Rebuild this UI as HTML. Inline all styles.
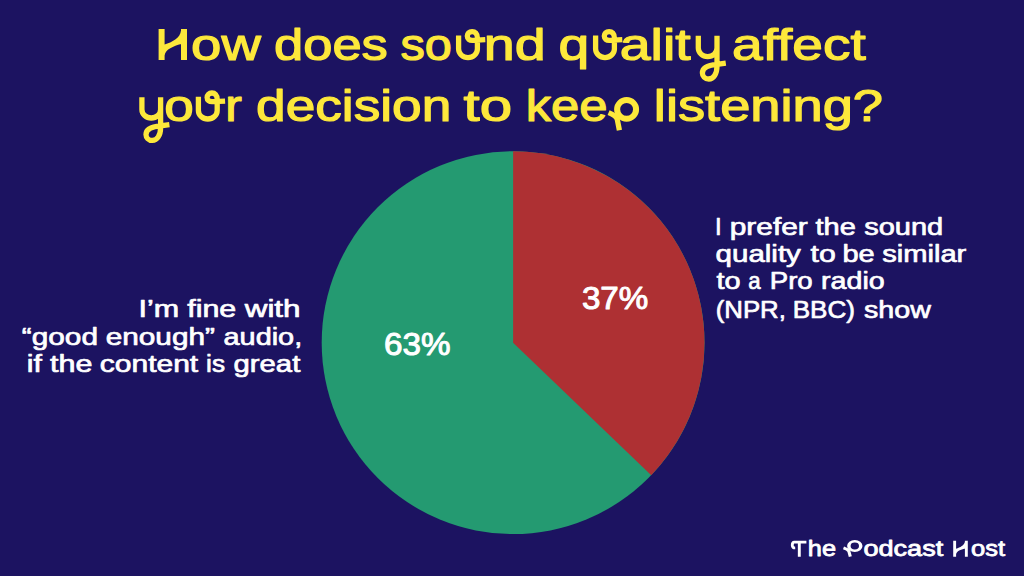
<!DOCTYPE html>
<html><head><meta charset="utf-8"><style>
html,body{margin:0;padding:0;background:#1c1361;}
body{width:1024px;height:576px;overflow:hidden;}
svg{display:block;}
text{font-family:"Liberation Sans",sans-serif;}
</style></head><body>
<svg width="1024" height="576" viewBox="0 0 1024 576">
<rect width="1024" height="576" fill="#1c1361"/>
<circle cx="513.1" cy="342.7" r="191.4" fill="#249a71"/>
<path d="M513.1,342.7 L513.1,151.3 A191.4,191.4 0 0 1 651.25,475.17 Z" fill="#ae3033"/>
<text x="191.02" y="60.00" font-size="45" font-weight="400" fill="#fde83b" stroke="#fde83b" stroke-width="1.2" stroke-linejoin="round" textLength="69.80" lengthAdjust="spacingAndGlyphs">ow</text>
<text x="273.98" y="60.00" font-size="45" font-weight="400" fill="#fde83b" stroke="#fde83b" stroke-width="1.2" stroke-linejoin="round" textLength="113.89" lengthAdjust="spacingAndGlyphs">does</text>
<text x="400.50" y="60.00" font-size="45" font-weight="400" fill="#fde83b" stroke="#fde83b" stroke-width="1.2" stroke-linejoin="round" textLength="51.48" lengthAdjust="spacingAndGlyphs">so</text>
<text x="483.79" y="60.00" font-size="45" font-weight="400" fill="#fde83b" stroke="#fde83b" stroke-width="1.2" stroke-linejoin="round" textLength="61.83" lengthAdjust="spacingAndGlyphs">nd</text>
<text x="558.62" y="60.00" font-size="45" font-weight="400" fill="#fde83b" stroke="#fde83b" stroke-width="1.2" stroke-linejoin="round" textLength="30.70" lengthAdjust="spacingAndGlyphs">q</text>
<text x="619.69" y="60.00" font-size="45" font-weight="400" fill="#fde83b" stroke="#fde83b" stroke-width="1.2" stroke-linejoin="round" textLength="71.02" lengthAdjust="spacingAndGlyphs">alit</text>
<text x="732.05" y="60.00" font-size="45" font-weight="400" fill="#fde83b" stroke="#fde83b" stroke-width="1.2" stroke-linejoin="round" textLength="133.76" lengthAdjust="spacingAndGlyphs">affect</text>
<text x="164.30" y="121.40" font-size="45" font-weight="400" fill="#fde83b" stroke="#fde83b" stroke-width="1.2" stroke-linejoin="round" textLength="29.55" lengthAdjust="spacingAndGlyphs">o</text>
<text x="225.25" y="121.40" font-size="45" font-weight="400" fill="#fde83b" stroke="#fde83b" stroke-width="1.2" stroke-linejoin="round" textLength="16.61" lengthAdjust="spacingAndGlyphs">r</text>
<text x="256.04" y="121.40" font-size="45" font-weight="400" fill="#fde83b" stroke="#fde83b" stroke-width="1.2" stroke-linejoin="round" textLength="195.25" lengthAdjust="spacingAndGlyphs">decision</text>
<text x="463.52" y="121.40" font-size="45" font-weight="400" fill="#fde83b" stroke="#fde83b" stroke-width="1.2" stroke-linejoin="round" textLength="48.53" lengthAdjust="spacingAndGlyphs">to</text>
<text x="525.73" y="121.40" font-size="45" font-weight="400" fill="#fde83b" stroke="#fde83b" stroke-width="1.2" stroke-linejoin="round" textLength="81.81" lengthAdjust="spacingAndGlyphs">kee</text>
<text x="653.84" y="121.40" font-size="45" font-weight="400" fill="#fde83b" stroke="#fde83b" stroke-width="1.2" stroke-linejoin="round" textLength="229.23" lengthAdjust="spacingAndGlyphs">listening?</text>
<text x="138.55" y="317.00" font-size="24.4" font-weight="400" fill="#ffffff" stroke="#ffffff" stroke-width="0.7" stroke-linejoin="round" textLength="40.60" lengthAdjust="spacingAndGlyphs">I’m</text>
<text x="187.24" y="317.00" font-size="24.4" font-weight="400" fill="#ffffff" stroke="#ffffff" stroke-width="0.7" stroke-linejoin="round" textLength="49.04" lengthAdjust="spacingAndGlyphs">fine</text>
<text x="244.73" y="317.00" font-size="24.4" font-weight="400" fill="#ffffff" stroke="#ffffff" stroke-width="0.7" stroke-linejoin="round" textLength="55.84" lengthAdjust="spacingAndGlyphs">with</text>
<text x="21.89" y="344.50" font-size="24.4" font-weight="400" fill="#ffffff" stroke="#ffffff" stroke-width="0.7" stroke-linejoin="round" textLength="76.10" lengthAdjust="spacingAndGlyphs">“good</text>
<text x="105.72" y="344.50" font-size="24.4" font-weight="400" fill="#ffffff" stroke="#ffffff" stroke-width="0.7" stroke-linejoin="round" textLength="109.15" lengthAdjust="spacingAndGlyphs">enough”</text>
<text x="223.57" y="344.50" font-size="24.4" font-weight="400" fill="#ffffff" stroke="#ffffff" stroke-width="0.7" stroke-linejoin="round" textLength="78.61" lengthAdjust="spacingAndGlyphs">audio,</text>
<text x="26.73" y="372.10" font-size="24.4" font-weight="400" fill="#ffffff" stroke="#ffffff" stroke-width="0.7" stroke-linejoin="round" textLength="15.11" lengthAdjust="spacingAndGlyphs">if</text>
<text x="50.11" y="372.10" font-size="24.4" font-weight="400" fill="#ffffff" stroke="#ffffff" stroke-width="0.7" stroke-linejoin="round" textLength="42.40" lengthAdjust="spacingAndGlyphs">the</text>
<text x="99.87" y="372.10" font-size="24.4" font-weight="400" fill="#ffffff" stroke="#ffffff" stroke-width="0.7" stroke-linejoin="round" textLength="98.35" lengthAdjust="spacingAndGlyphs">content</text>
<text x="206.07" y="372.10" font-size="24.4" font-weight="400" fill="#ffffff" stroke="#ffffff" stroke-width="0.7" stroke-linejoin="round" textLength="18.92" lengthAdjust="spacingAndGlyphs">is</text>
<text x="233.57" y="372.10" font-size="24.4" font-weight="400" fill="#ffffff" stroke="#ffffff" stroke-width="0.7" stroke-linejoin="round" textLength="66.70" lengthAdjust="spacingAndGlyphs">great</text>
<text x="715.10" y="234.60" font-size="24.4" font-weight="400" fill="#ffffff" stroke="#ffffff" stroke-width="0.7" stroke-linejoin="round" textLength="6.61" lengthAdjust="spacingAndGlyphs">I</text>
<text x="729.72" y="234.60" font-size="24.4" font-weight="400" fill="#ffffff" stroke="#ffffff" stroke-width="0.7" stroke-linejoin="round" textLength="78.03" lengthAdjust="spacingAndGlyphs">prefer</text>
<text x="815.44" y="234.60" font-size="24.4" font-weight="400" fill="#ffffff" stroke="#ffffff" stroke-width="0.7" stroke-linejoin="round" textLength="40.35" lengthAdjust="spacingAndGlyphs">the</text>
<text x="864.21" y="234.60" font-size="24.4" font-weight="400" fill="#ffffff" stroke="#ffffff" stroke-width="0.7" stroke-linejoin="round" textLength="79.02" lengthAdjust="spacingAndGlyphs">sound</text>
<text x="715.58" y="262.00" font-size="24.4" font-weight="400" fill="#ffffff" stroke="#ffffff" stroke-width="0.7" stroke-linejoin="round" textLength="85.30" lengthAdjust="spacingAndGlyphs">quality</text>
<text x="810.53" y="262.00" font-size="24.4" font-weight="400" fill="#ffffff" stroke="#ffffff" stroke-width="0.7" stroke-linejoin="round" textLength="25.19" lengthAdjust="spacingAndGlyphs">to</text>
<text x="842.46" y="262.00" font-size="24.4" font-weight="400" fill="#ffffff" stroke="#ffffff" stroke-width="0.7" stroke-linejoin="round" textLength="32.25" lengthAdjust="spacingAndGlyphs">be</text>
<text x="882.23" y="262.00" font-size="24.4" font-weight="400" fill="#ffffff" stroke="#ffffff" stroke-width="0.7" stroke-linejoin="round" textLength="84.10" lengthAdjust="spacingAndGlyphs">similar</text>
<text x="716.45" y="289.40" font-size="24.4" font-weight="400" fill="#ffffff" stroke="#ffffff" stroke-width="0.7" stroke-linejoin="round" textLength="24.03" lengthAdjust="spacingAndGlyphs">to</text>
<text x="748.20" y="289.40" font-size="24.4" font-weight="400" fill="#ffffff" stroke="#ffffff" stroke-width="0.7" stroke-linejoin="round" textLength="12.36" lengthAdjust="spacingAndGlyphs">a</text>
<text x="769.76" y="289.40" font-size="24.4" font-weight="400" fill="#ffffff" stroke="#ffffff" stroke-width="0.7" stroke-linejoin="round" textLength="42.95" lengthAdjust="spacingAndGlyphs">Pro</text>
<text x="821.05" y="289.40" font-size="24.4" font-weight="400" fill="#ffffff" stroke="#ffffff" stroke-width="0.7" stroke-linejoin="round" textLength="63.61" lengthAdjust="spacingAndGlyphs">radio</text>
<text x="715.70" y="317.60" font-size="24.4" font-weight="400" fill="#ffffff" stroke="#ffffff" stroke-width="0.7" stroke-linejoin="round" textLength="70.22" lengthAdjust="spacingAndGlyphs">(NPR,</text>
<text x="792.69" y="317.60" font-size="24.4" font-weight="400" fill="#ffffff" stroke="#ffffff" stroke-width="0.7" stroke-linejoin="round" textLength="62.18" lengthAdjust="spacingAndGlyphs">BBC)</text>
<text x="863.97" y="317.60" font-size="24.4" font-weight="400" fill="#ffffff" stroke="#ffffff" stroke-width="0.7" stroke-linejoin="round" textLength="66.87" lengthAdjust="spacingAndGlyphs">show</text>
<text x="581.90" y="308.75" font-size="32" font-weight="400" fill="#ffffff" stroke="#ffffff" stroke-width="1.0" stroke-linejoin="round" textLength="66.37" lengthAdjust="spacingAndGlyphs">37%</text>
<text x="384.12" y="355.15" font-size="32" font-weight="400" fill="#ffffff" stroke="#ffffff" stroke-width="1.0" stroke-linejoin="round" textLength="66.50" lengthAdjust="spacingAndGlyphs">63%</text>
<text x="807.82" y="556.00" font-size="22" font-weight="400" fill="#ffffff" stroke="#ffffff" stroke-width="0.8" stroke-linejoin="round" textLength="28.18" lengthAdjust="spacingAndGlyphs">he</text>
<text x="863.46" y="556.00" font-size="22" font-weight="400" fill="#ffffff" stroke="#ffffff" stroke-width="0.8" stroke-linejoin="round" textLength="79.77" lengthAdjust="spacingAndGlyphs">odcast</text>
<text x="971.04" y="556.00" font-size="22" font-weight="400" fill="#ffffff" stroke="#ffffff" stroke-width="0.8" stroke-linejoin="round" textLength="34.02" lengthAdjust="spacingAndGlyphs">ost</text>
<path d="M158.60,28.90H164.60V60.10H158.60Z M181.00,28.90H187.00V60.10H181.00Z M164.60,44.50 C171.98,42.00 180.18,38.26 181.00,30.46 L181.00,43.88 C173.62,46.06 165.42,48.87 164.60,55.42 Z" fill="#fde83b"/>
<path d="M458.60,35.40 V49.00 A9.4,8.6 0 0 0 477.40,49.00 V38.00 C477.40,33.50 475.00,31.60 472.10,31.60 C469.10,31.60 467.30,33.80 467.30,36.00 C467.30,39.00 469.50,40.40 472.50,40.30 L485.30,39.70" fill="none" stroke="#fde83b" stroke-width="5.3" stroke-linejoin="round" stroke-linecap="butt"/>
<path d="M595.60,35.40 V49.00 A9.4,8.6 0 0 0 614.40,49.00 V38.00 C614.40,33.50 612.00,31.60 609.10,31.60 C606.10,31.60 604.30,33.80 604.30,36.00 C604.30,39.00 606.50,40.40 609.50,40.30 L622.30,39.70" fill="none" stroke="#fde83b" stroke-width="5.3" stroke-linejoin="round" stroke-linecap="butt"/>
<path d="M198.40,96.80 V110.40 A9.4,8.6 0 0 0 217.20,110.40 V99.40 C217.20,94.90 214.80,93.00 211.90,93.00 C208.90,93.00 207.10,95.20 207.10,97.40 C207.10,100.40 209.30,101.80 212.30,101.70 L225.10,101.10" fill="none" stroke="#fde83b" stroke-width="5.3" stroke-linejoin="round" stroke-linecap="butt"/>
<path d="M698.30,35.80 V48.00 A9.35,8.6 0 0 0 717.00,48.00 M717.00,35.80 V66.00 C717.00,74.00 713.50,79.00 708.80,79.00 C704.80,79.00 702.40,76.00 702.40,73.00 C702.40,67.00 710.00,65.00 717.00,64.40 L725.80,63.20" fill="none" stroke="#fde83b" stroke-width="5.3" stroke-linejoin="round" stroke-linecap="butt"/>
<path d="M141.90,97.20 V109.40 A9.35,8.6 0 0 0 160.60,109.40 M160.60,97.20 V127.40 C160.60,135.40 157.10,140.40 152.40,140.40 C148.40,140.40 146.00,137.40 146.00,134.40 C146.00,128.40 153.60,126.40 160.60,125.80 L169.40,124.60" fill="none" stroke="#fde83b" stroke-width="5.3" stroke-linejoin="round" stroke-linecap="butt"/>
<path d="M614.10,109.35 a12.50,12.30 0 1 0 25.00,0 a12.50,12.30 0 1 0 -25.00,0 Z M620.15,109.35 a6.45,6.45 0 1 0 12.90,0 a6.45,6.45 0 1 0 -12.90,0 Z" fill="#fde83b" fill-rule="evenodd"/>
<path d="M608.6,112.6 Q615.8,115.6 617.2,119 L619.4,130.2" fill="none" stroke="#fde83b" stroke-width="5.3" stroke-linejoin="round" stroke-linecap="butt"/>
<path d="M799.3,542 V556.7 M806.4,542.1 H794.2 C792.6,542.1 792.3,543.6 792.3,545.2 C792.3,547.1 793.4,548 795.2,547.9" fill="none" stroke="#ffffff" stroke-width="2.9" stroke-linejoin="round" stroke-linecap="butt"/>
<path d="M847.10,546.00 a7.70,5.90 0 1 0 15.40,0 a7.70,5.90 0 1 0 -15.40,0 Z M850.60,546.00 a4.20,3.40 0 1 0 8.40,0 a4.20,3.40 0 1 0 -8.40,0 Z" fill="#ffffff" fill-rule="evenodd"/>
<path d="M843.5,547.9 Q847.8,549.4 848.9,551.3 L850.3,556.7" fill="none" stroke="#ffffff" stroke-width="3.1" stroke-linejoin="round" stroke-linecap="butt"/>
<path d="M953.20,540.80H956.10V556.70H953.20Z M964.90,540.80H967.80V556.70H964.90Z M956.10,548.75 C960.06,547.48 964.46,545.57 964.90,541.59 L964.90,548.43 C960.94,549.54 956.54,550.98 956.10,554.31 Z" fill="#ffffff"/>
</svg>
</body></html>
